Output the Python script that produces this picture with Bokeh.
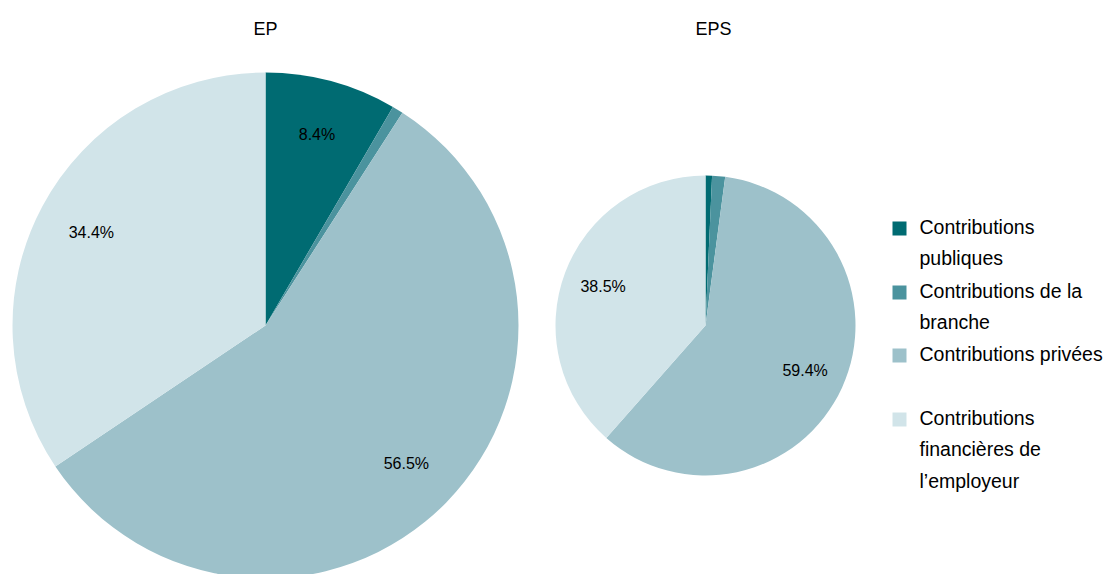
import numpy as np
from bokeh.plotting import figure
from bokeh.models import ColumnDataSource, Range1d
from bokeh.core.properties import value
from bokeh.embed import file_html
from bokeh.resources import INLINE

categories = ["Contributions publiques", "Contributions de la branche",
              "Contributions privées", "Contributions financières de l’employeur"]
legend_labels = ["Contributions\npubliques", "Contributions de la\nbranche",
                 "Contributions privées", "Contributions\nfinancières de\nl’employeur"]
colors = ["#006B72", "#4B939E", "#9DC1CA", "#D1E4E9"]

pie_titles = ["EP", "EPS"]
ep_values = [8.4, 0.7, 56.5, 34.4]
eps_values = [0.7, 1.4, 59.4, 38.5]
ep_labels = ["8.4%", "", "56.5%", "34.4%"]
eps_labels = ["", "", "59.4%", "38.5%"]

W, H = 1107, 574
FONT = value("Liberation Sans")

p = figure(width=W, height=H, output_backend="svg", toolbar_location=None,
           x_range=Range1d(0, W), y_range=Range1d(0, H), min_border=0)
p.axis.visible = False
p.grid.visible = False
p.outline_line_color = None
p.background_fill_color = "white"

pies = [
    dict(cx=265, cy=H - 325, r=253, vals=ep_values, labels=ep_labels,
         title=pie_titles[0], tx=265, lf=0.78),
    dict(cx=705, cy=H - 325, r=150, vals=eps_values, labels=eps_labels,
         title=pie_titles[1], tx=713, lf=0.73),
]

for pie in pies:
    v = np.array(pie["vals"], dtype=float)
    frac = v / v.sum()
    cum = np.concatenate([[0], np.cumsum(frac)])
    start = np.pi / 2 - 2 * np.pi * cum[:-1]
    end = np.pi / 2 - 2 * np.pi * cum[1:]
    src = ColumnDataSource(dict(start=start, end=end, color=colors))
    p.wedge(x=pie["cx"], y=pie["cy"], radius=pie["r"], start_angle="start",
            end_angle="end", direction="clock", fill_color="color",
            line_color=None, source=src)
    mid = np.pi / 2 - 2 * np.pi * (cum[:-1] + cum[1:]) / 2
    lx = pie["cx"] + pie["lf"] * pie["r"] * np.cos(mid)
    ly = pie["cy"] + pie["lf"] * pie["r"] * np.sin(mid)
    lsrc = ColumnDataSource(dict(x=lx, y=ly, t=pie["labels"]))
    p.text(x="x", y="y", text="t", source=lsrc, text_align="center",
           text_baseline="middle", text_font=FONT, text_font_size="16px",
           text_color="#000000")
    p.text(x=[pie["tx"]], y=[H - 28], text=[pie["title"]], text_align="center",
           text_baseline="middle", text_font=FONT, text_font_size="18px",
           text_color="#000000")

# legend
leg_y = [H - 228, H - 292, H - 355, H - 419]
leg_x = 899
p.rect(x=[leg_x] * 4, y=leg_y, width=14, height=14, fill_color=colors, line_color=None)
p.text(x=[leg_x + 20] * 4, y=[y + 13 for y in leg_y], text=legend_labels,
       text_align="left", text_baseline="top", text_font=FONT,
       text_font_size="19.5px", text_color="#000000", text_line_height=1.45)

open("out.html", "w").write(file_html(p, INLINE))
